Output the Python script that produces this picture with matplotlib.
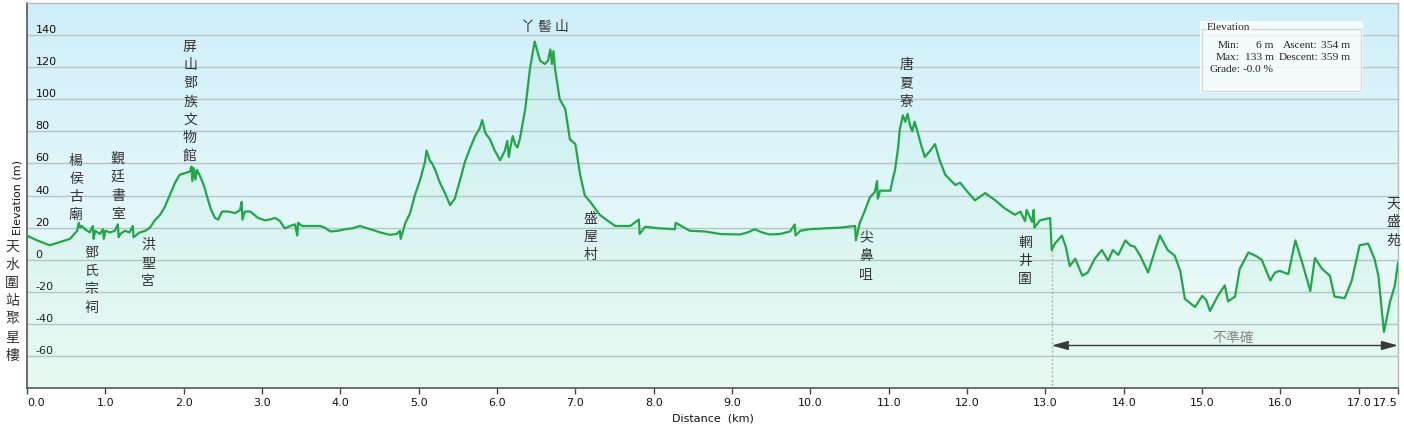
import numpy as np
import matplotlib
matplotlib.use("Agg")
import matplotlib.pyplot as plt
from matplotlib.patches import Rectangle

# ---------------- data ----------------
dist_km = [0.00, 0.13, 0.29, 0.42, 0.55, 0.64, 0.66, 0.68, 0.70, 0.74, 0.80, 0.84, 0.85, 0.87, 0.93,
           0.97, 0.98, 1.00, 1.06, 1.12, 1.16, 1.17, 1.19, 1.25, 1.31, 1.35, 1.36, 1.44, 1.51, 1.57,
           1.63, 1.70, 1.76, 1.83, 1.89, 1.95, 2.02, 2.08, 2.10, 2.11, 2.13, 2.15, 2.17, 2.21, 2.26,
           2.30, 2.35, 2.40, 2.44, 2.49, 2.57, 2.66, 2.72, 2.74, 2.75, 2.78, 2.85, 2.95, 3.04, 3.10,
           3.17, 3.23, 3.29, 3.36, 3.42, 3.45, 3.46, 3.51, 3.61, 3.74, 3.80, 3.87, 3.97, 4.06, 4.15,
           4.25, 4.38, 4.51, 4.63, 4.72, 4.76, 4.77, 4.83, 4.89, 4.95, 5.02, 5.08, 5.10, 5.14, 5.17,
           5.21, 5.27, 5.34, 5.40, 5.46, 5.53, 5.59, 5.66, 5.72, 5.78, 5.81, 5.85, 5.91, 5.97, 6.04,
           6.10, 6.13, 6.15, 6.17, 6.20, 6.23, 6.26, 6.29, 6.36, 6.42, 6.48, 6.55, 6.61, 6.65, 6.68,
           6.70, 6.72, 6.74, 6.80, 6.87, 6.93, 7.00, 7.06, 7.12, 7.19, 7.31, 7.42, 7.51, 7.70, 7.81,
           7.82, 7.89, 8.08, 8.27, 8.28, 8.46, 8.65, 8.85, 9.10, 9.20, 9.29, 9.38, 9.48, 9.61, 9.74,
           9.80, 9.81, 9.87, 9.99, 10.19, 10.38, 10.57, 10.58, 10.63, 10.69, 10.76, 10.82, 10.85, 10.86,
           10.89, 10.95, 11.02, 11.05, 11.08, 11.12, 11.14, 11.18, 11.21, 11.24, 11.27, 11.30, 11.33,
           11.36, 11.41, 11.46, 11.53, 11.59, 11.65, 11.72, 11.78, 11.85, 11.91, 12.01, 12.10, 12.23,
           12.36, 12.48, 12.61, 12.68, 12.74, 12.76, 12.83, 12.85, 12.86, 12.93, 13.06, 13.08, 13.12,
           13.21, 13.26, 13.31, 13.38, 13.47, 13.54, 13.63, 13.72, 13.80, 13.86, 13.93, 14.02, 14.08,
           14.14, 14.21, 14.31, 14.40, 14.46, 14.56, 14.65, 14.72, 14.78, 14.91, 15.00, 15.05, 15.10,
           15.20, 15.29, 15.33, 15.42, 15.48, 15.59, 15.68, 15.76, 15.87, 15.93, 15.99, 16.10, 16.19,
           16.29, 16.38, 16.44, 16.53, 16.63, 16.69, 16.82, 16.91, 17.01, 17.12, 17.17, 17.20, 17.25,
           17.32, 17.40, 17.46, 17.50]
elev_m = [15, 12, 9, 11, 13, 18, 23, 20, 21, 19, 17, 21, 13, 18, 16,
          19, 13, 18, 17, 18, 22, 14, 16, 18, 17, 21, 14, 17, 18, 20,
          24.5, 28, 33, 41, 48, 53, 54, 55, 58, 49, 57, 50, 56, 52, 46,
          39, 31, 26, 25, 30, 30, 29, 31, 36, 25, 30, 30, 26, 24.5, 25,
          26, 24, 19.5, 21, 22, 15, 23, 21, 21, 21, 20, 17.6, 18, 19, 19.5,
          21, 19, 17, 15.5, 16, 18, 13, 23, 29, 40, 50, 61, 68, 62, 60,
          56, 48, 41, 34, 38, 50, 61, 70, 77, 82, 87, 79, 75, 68, 62,
          68, 74, 64, 70, 77, 72, 70, 75, 94, 119, 136, 124, 122, 124, 131,
          122, 130, 119, 100, 94, 75, 72, 53, 40, 36, 28, 24, 21, 21, 25,
          16, 20.5, 19.5, 19, 23, 18, 17.6, 16, 15.7, 17, 19, 17, 15.7, 16, 17.6,
          22, 15, 18, 19, 19.5, 20, 21, 12, 23, 30, 39, 42, 49, 38,
          43, 43, 43, 50, 56, 70, 81, 90, 86, 91, 84, 80, 86,
          81, 72, 64, 68, 72, 62, 53, 50, 46.5, 48, 42, 37, 41.5,
          37, 32, 28, 30, 24, 31, 23.5, 31, 20, 24.5, 26, 6, 10,
          15, 8, -4, 0.6, -10, -8, 0.6, 6, -0.6, 6, 3, 12, 9,
          8, 2.5, -8, 6, 15, 6, 2.5, -7, -24.5, -29.5, -22.6, -25, -32,
          -22.6, -16, -26, -23, -5.7, 4.4, 2.5, 0, -13, -8, -7, -9, 12,
          -4, -19.5, 1, -5.7, -10, -23, -24, -13, 9, 10, 4, 0.6, -10,
          -45, -26, -16, -2]

y_ticks = [-60, -40, -20, 0, 20, 40, 60, 80, 100, 120, 140]
x_ticks = [0, 1, 2, 3, 4, 5, 6, 7, 8, 9, 10, 11, 12, 13, 14, 15, 16, 17, 17.5]
x_tick_labels = ["0.0", "1.0", "2.0", "3.0", "4.0", "5.0", "6.0", "7.0", "8.0", "9.0",
                 "10.0", "11.0", "12.0", "13.0", "14.0", "15.0", "16.0", "17.0", "17.5"]

# place-name labels (written vertically): text, km, elevation of the top character
place_names = ["天水圍站聚星樓", "楊侯古廟", "鄧氏宗祠", "覲廷書室", "洪聖宮", "屏山鄧族文物館",
               "盛屋村", "唐夏寮", "尖鼻咀", "輞井圍", "天盛苑"]
place_km = [-0.19, 0.625, 0.82, 1.16, 1.545, 2.08, 7.19, 11.23, 10.71, 12.74, 17.44]
place_top = [12.5, 66, 8.5, 67, 13.5, 137, 30, 125.5, 18, 15, 39]
summit_name = "丫 髻 山"
summit_km = 6.61
summit_m = 145
inaccurate_text = "不準確"
inaccurate_start_km = 13.08
inaccurate_end_km = 17.5
inaccurate_m = -53.5

stats_title = "Elevation"
stats_rows = [["Min:", "6 m", "Ascent:", "354 m"],
              ["Max:", "133 m", "Descent:", "359 m"],
              ["Grade:", "-0.0 %", "", ""]]

# ---------------- figure ----------------
W, H = 1404, 434
fig = plt.figure(figsize=(W / 100, H / 100), dpi=100)
fig.patch.set_facecolor("white")
L, R, T, B = 27, 1398, 3, 388
ax = fig.add_axes([L / W, 1 - B / H, (R - L) / W, (B - T) / H])

ymin, ymax = -80, 160
ax.set_xlim(0, 17.5)
ax.set_ylim(ymin, ymax)

# background gradient
top_c = np.array([0xd0, 0xef, 0xfa]) / 255
bot_c = np.array([0xf2, 0xfd, 0xf8]) / 255
t = np.linspace(0, 1, 256)[:, None]
grad = top_c[None, :] * (1 - t) + bot_c[None, :] * t
ax.imshow(grad[:, None, :].repeat(2, axis=1), extent=[0, 1, 0, 1], transform=ax.transAxes,
          aspect="auto", zorder=0, interpolation="bilinear")

# grid
for v in y_ticks:
    ax.axhline(v, color="#b6c6c4", lw=1.0, zorder=1)

x = np.array(dist_km)
y = np.array(elev_m)
ax.fill_between(x, y, ymin, color="#7fe0ae", alpha=0.09, lw=0, zorder=2)
ax.plot(x, y, color="#22a64a", lw=1.6, zorder=4, solid_joinstyle="round")

# ticks
ax.set_yticks(y_ticks)
ax.set_yticklabels([str(v) for v in y_ticks])
ax.tick_params(axis="y", length=0, pad=-6, labelsize=8, labelcolor="#111")
for lab in ax.get_yticklabels():
    lab.set_horizontalalignment("left")
    lab.set_verticalalignment("bottom")
ax.set_xticks(x_ticks)
ax.set_xticklabels(x_tick_labels)
ax.tick_params(axis="x", length=4, width=1, color="#444", pad=3, labelsize=8, labelcolor="#111")
xl = ax.get_xticklabels()
xl[0].set_horizontalalignment("left")
xl[-1].set_horizontalalignment("right")

ax.set_xlabel("Distance  (km)", fontsize=8, labelpad=4, color="#111")
ax.set_ylabel("Elevation (m)", fontsize=8, color="#111")
ax.yaxis.set_label_coords(-0.0035, 0.495)

for s in ["left", "bottom"]:
    ax.spines[s].set_color("#555")
    ax.spines[s].set_linewidth(1.2)
for s in ["top", "right"]:
    ax.spines[s].set_color("#b8b8b8")
    ax.spines[s].set_linewidth(1.0)

# place names
cjk = ["Noto Sans CJK TC", "DejaVu Sans"]
for name, km, top in zip(place_names, place_km, place_top):
    ax.text(km, top, "\n".join(name), ha="center", va="top", fontsize=10,
            family=cjk, color="#333", linespacing=1.38, zorder=5, clip_on=False)
ax.text(summit_km, summit_m, summit_name, ha="center", va="center", fontsize=10,
        family=cjk, color="#333", zorder=5)

# inaccurate range
ax.plot([inaccurate_start_km, inaccurate_start_km], [6, ymin], ls=(0, (1.5, 1.5)),
        color="#b0b0b0", lw=1, zorder=3)
ax.annotate("", xy=(inaccurate_end_km, inaccurate_m), xytext=(inaccurate_start_km, inaccurate_m),
            arrowprops=dict(arrowstyle="<|-|>,head_length=1.0,head_width=0.28",
                            color="#3a3a3a", lw=1.0, shrinkA=0, shrinkB=0), zorder=5)
ax.text(15.39, -49, inaccurate_text, ha="center", va="center", fontsize=10,
        family=cjk, color="#888", zorder=5)

# stats box
def fx(px):
    return px / W
def fy(py):
    return 1 - py / H

fig.patches.append(Rectangle((fx(1200), fy(93)), fx(1363) - fx(1200), fy(21) - fy(93),
                             transform=fig.transFigure, facecolor="white", alpha=0.75,
                             edgecolor="none", zorder=10))
fig.patches.append(Rectangle((fx(1202), fy(91)), fx(1361) - fx(1202), fy(29) - fy(91),
                             transform=fig.transFigure, facecolor="none",
                             edgecolor="#d8d8d8", lw=1, zorder=11))
serif = "Liberation Serif"
fs = 8.2
fig.text(fx(1207), fy(28), stats_title, ha="left", va="center", fontsize=fs, family=serif,
         color="#222", zorder=12, bbox=dict(facecolor="#fafdfe", edgecolor="none", pad=0.5))
row_y = [45, 58, 70]
for row, ry in zip(stats_rows, row_y):
    fig.text(fx(1240), fy(ry), row[0], ha="right", va="center", fontsize=fs, family=serif,
             color="#222", zorder=12)
    if row[2]:
        fig.text(fx(1274), fy(ry), row[1], ha="right", va="center", fontsize=fs,
                 family=serif, color="#222", zorder=12)
        fig.text(fx(1318), fy(ry), row[2], ha="right", va="center", fontsize=fs, family=serif,
                 color="#222", zorder=12)
        fig.text(fx(1321), fy(ry), row[3], ha="left", va="center", fontsize=fs, family=serif,
                 color="#222", zorder=12)
    else:
        fig.text(fx(1243), fy(ry), row[1], ha="left", va="center", fontsize=fs,
                 family=serif, color="#222", zorder=12)

fig.savefig("out.png", dpi=100)
